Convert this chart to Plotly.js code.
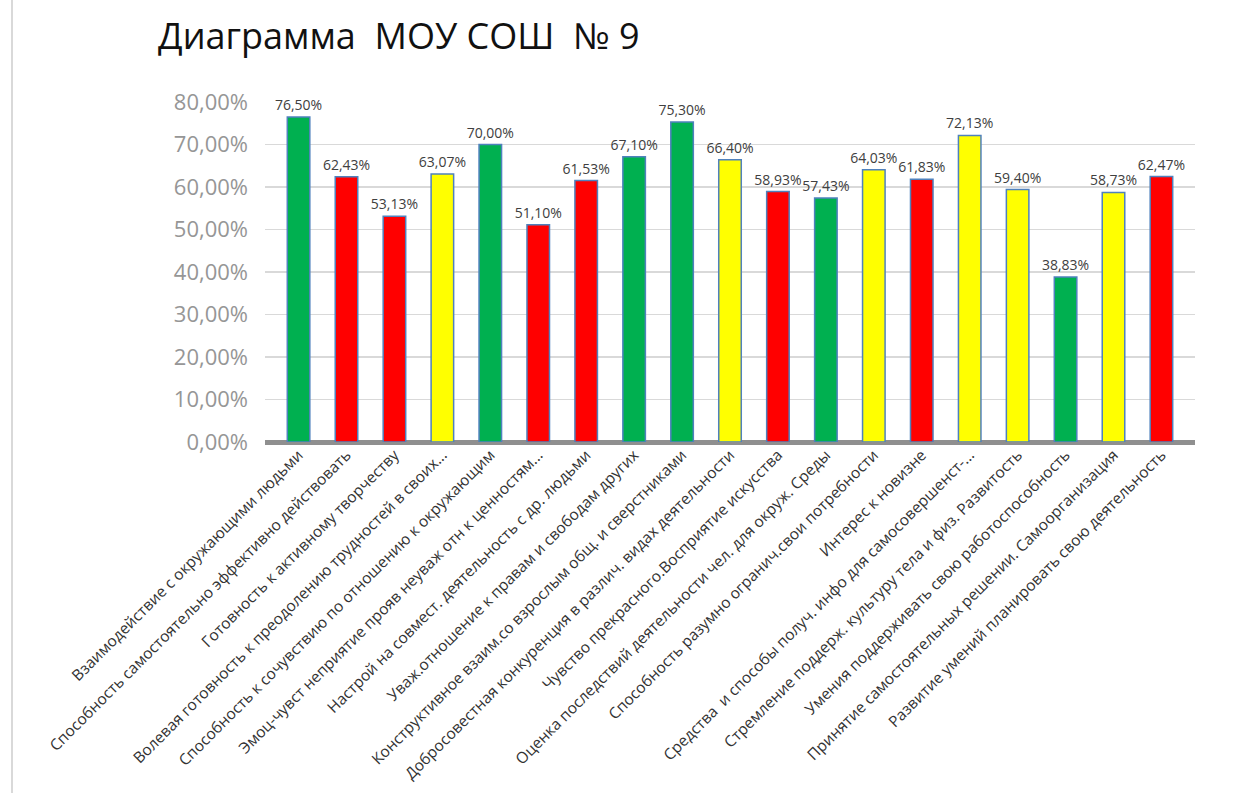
<!DOCTYPE html>
<html>
<head>
<meta charset="utf-8">
<script src="https://cdn.plot.ly/plotly-3.0.1.min.js"></script>
<style>html,body{margin:0;padding:0;background:#fff;}#chart{width:1248px;height:793px;}</style>
</head>
<body>
<div id="chart"></div>
<script>
const categories = [
  "Взаимодействие с окружающими людьми",
  "Способность самостоятельно эффективно действовать",
  "Готовность к активному творчеству",
  "Волевая готовность к преодолению трудностей в своих...",
  "Способность к сочувствию по отношению к окружающим",
  "Эмоц-чувст неприятие прояв неуваж отн к ценностям...",
  "Настрой на совмест. деятельность с др. людьми",
  "Уваж.отношение к правам и свободам других",
  "Конструктивное взаим.со взрослым общ. и сверстниками",
  "Добросовестная конкуренция в различ. видах деятельности",
  "Чувство прекрасного.Восприятие искусства",
  "Оценка последствий деятельности чел. для окруж. Среды",
  "Способность разумно огранич.свои потребности",
  "Интерес к новизне",
  "Средства  и способы получ. инфо для самосовершенст-...",
  "Стремление поддерж. культуру тела и физ. Развитость",
  "Умения поддерживать свою работоспособность",
  "Принятие самостоятельных решении. Самоорганизация",
  "Развитие умений планировать свою деятельность"
];
const values = [76.50, 62.43, 53.13, 63.07, 70.00, 51.10, 61.53, 67.10, 75.30, 66.40, 58.93, 57.43, 64.03, 61.83, 72.13, 59.40, 38.83, 58.73, 62.47];
const levels = ["green","red","red","yellow","green","red","red","green","green","yellow","red","green","yellow","red","yellow","yellow","green","yellow","red"];
const yTicks = [0, 10, 20, 30, 40, 50, 60, 70, 80];

const palette = {green: "#00B050", red: "#FF0000", yellow: "#FFFF00"};
const yTickText = yTicks.map(v => v.toFixed(2).replace(".", ",") + "%");

const trace = {
  type: "bar",
  x: categories,
  y: values,
  marker: {color: levels.map(l => palette[l]), line: {color: "#4F81BD", width: 1.5}},
  width: 0.47,
  texttemplate: "%{y:.2f}%",
  textposition: "outside",
  constraintext: "none",
  textfont: {family: "Open Sans, DejaVu Sans, sans-serif", size: 14, color: "#404040"},
  cliponaxis: false,
  hoverinfo: "x+y"
};

const layout = {
  width: 1248, height: 793,
  paper_bgcolor: "#ffffff", plot_bgcolor: "#ffffff",
  separators: ",.",
  showlegend: false,
  margin: {l: 265, r: 53, t: 102, b: 351},
  title: {
    text: "Диаграмма  МОУ СОШ  № 9",
    x: 158/1248, xanchor: "left", xref: "container",
    y: 1 - 36/793, yanchor: "middle", yref: "container",
    font: {family: "Open Sans, Noto Sans, sans-serif", size: 36, color: "#111111"}
  },
  xaxis: {
    type: "category",
    range: [-0.7, 18.7],
    tickangle: -45,
    tickfont: {family: "Open Sans, DejaVu Sans, sans-serif", size: 15.5, color: "#333333"},
    showgrid: false, showline: false, ticks: "",
    automargin: false
  },
  yaxis: {
    range: [0, 80],
    tickmode: "array",
    tickvals: yTicks,
    ticktext: yTickText,
    tickfont: {family: "Open Sans, DejaVu Sans, sans-serif", size: 22, color: "#969696"},
    ticklabelstandoff: 16,
    gridcolor: "#d9d9d9", gridwidth: 1.5,
    zeroline: true, zerolinecolor: "#8f8f8f", zerolinewidth: 5,
    showline: false, ticks: "", ticklen: 0,
    automargin: false
  },
  shapes: [
    {type: "line", xref: "paper", yref: "paper", x0: -253/930, x1: -253/930, y0: -351/340, y1: 1 + 102/340, line: {color: "#d9d9d9", width: 2}}
  ]
};

Plotly.newPlot("chart", [trace], layout, {displayModeBar: false, staticPlot: true});
</script>
</body>
</html>
